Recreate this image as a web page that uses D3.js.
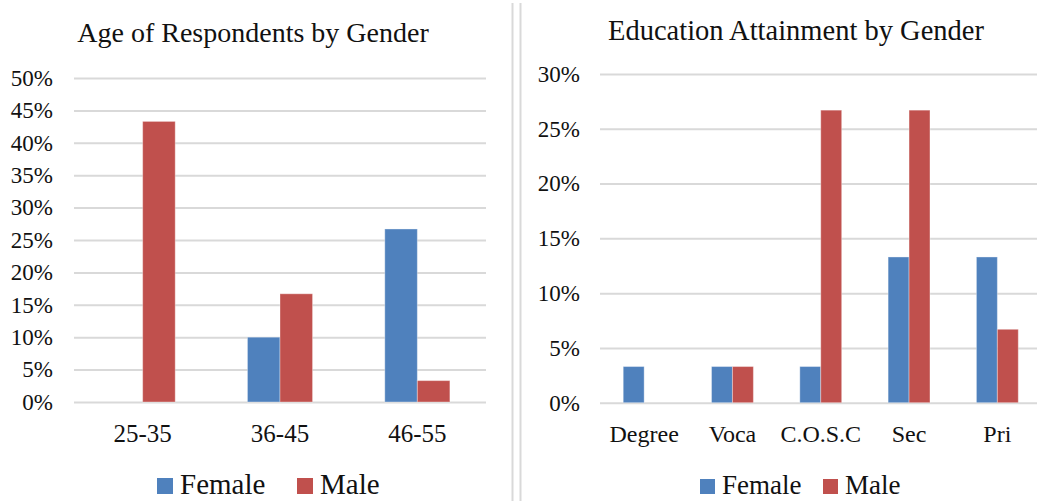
<!DOCTYPE html>
<html>
<head>
<meta charset="utf-8">
<script src="https://cdn.jsdelivr.net/npm/d3@7"></script>
<style>
  html, body { margin: 0; padding: 0; background: #fff; }
  svg { display: block; }
  text { font-family: "Liberation Serif", "DejaVu Serif", serif; fill: #111; }
</style>
</head>
<body>
<svg id="chart" width="1037" height="501"></svg>
<script>
// ---- data ----
const series = ["Female", "Male"];
const colors = ["#4f81bd", "#c0504d"];

const ageGroups = ["25-35", "36-45", "46-55"];
const ageFemale = [0, 10.0, 26.7];
const ageMale = [43.3, 16.7, 3.3];
const ageTicks = [0, 5, 10, 15, 20, 25, 30, 35, 40, 45, 50];

const eduLevels = ["Degree", "Voca", "C.O.S.C", "Sec", "Pri"];
const eduFemale = [3.3, 3.3, 3.3, 13.3, 13.3];
const eduMale = [0, 3.3, 26.7, 26.7, 6.7];
const eduTicks = [0, 5, 10, 15, 20, 25, 30];

const svg = d3.select("#chart");

// divider lines between the two panels
svg.selectAll("line.divider")
  .data([512.5, 520.5])
  .join("line")
  .attr("class", "divider")
  .attr("x1", d => d).attr("x2", d => d)
  .attr("y1", 3).attr("y2", 501)
  .attr("stroke", "#d9d9d9").attr("stroke-width", 2);

function drawPanel(cfg) {
  const g = svg.append("g");
  const x = d3.scaleBand().domain(cfg.categories).range(cfg.xRange).padding(0);
  const groupW = x.bandwidth() * 0.474;
  const xs = d3.scaleBand().domain(series).range([0, groupW]).padding(0);
  const y = d3.scaleLinear().domain([0, cfg.max]).range(cfg.yRange);

  // gridlines + tick labels via a left axis
  const axis = d3.axisLeft(y)
    .tickValues(cfg.ticks)
    .tickSize(-(cfg.gridEnd - cfg.xRange[0]))
    .tickPadding(cfg.xRange[0] - cfg.labelRight)
    .tickFormat(d => d + "%");
  const ax = g.append("g")
    .attr("transform", `translate(${cfg.xRange[0]},0)`)
    .call(axis);
  ax.select(".domain").remove();
  ax.selectAll(".tick line").attr("stroke", "#d9d9d9").attr("stroke-width", 2);
  ax.selectAll(".tick text")
    .attr("font-size", cfg.tickSize)
    .attr("font-family", null)
    .attr("fill", "#111");

  // bars
  const rows = cfg.categories.map((c, i) => ({ c, vals: [cfg.female[i], cfg.male[i]] }));
  const grp = g.selectAll("g.cat").data(rows).join("g")
    .attr("transform", d => `translate(${x(d.c) + (x.bandwidth() - groupW) / 2},0)`);
  grp.selectAll("rect")
    .data(d => d.vals.map((v, k) => ({ s: series[k], v, k })).filter(d => d.v > 0))
    .join("rect")
    .attr("x", d => xs(d.s))
    .attr("width", xs.bandwidth())
    .attr("y", d => y(d.v))
    .attr("height", d => y(0) - y(d.v))
    .attr("fill", d => colors[d.k])
    .attr("stroke", "#ffffff").attr("stroke-opacity", 0.35).attr("stroke-width", 1);

  // category labels
  g.selectAll("text.cat").data(cfg.categories).join("text")
    .attr("class", "cat")
    .attr("x", d => x(d) + x.bandwidth() / 2)
    .attr("y", cfg.catY)
    .attr("text-anchor", "middle")
    .attr("font-size", cfg.catSize)
    .text(d => d);

  // title
  g.append("text")
    .attr("x", cfg.titleX).attr("y", cfg.titleY)
    .attr("text-anchor", "middle")
    .attr("font-size", cfg.titleSize)
    .text(cfg.title);

  // legend
  const lg = g.selectAll("g.leg").data(series).join("g")
    .attr("transform", (d, i) => `translate(${cfg.legendX[i]},${cfg.legendY})`);
  lg.append("rect")
    .attr("x", 0).attr("y", -cfg.legSq)
    .attr("width", cfg.legSq).attr("height", cfg.legSq)
    .attr("fill", (d, i) => colors[i]);
  lg.append("text")
    .attr("x", cfg.legSq + 7).attr("y", 0)
    .attr("font-size", cfg.legSize)
    .text(d => d);
}

drawPanel({
  categories: ageGroups, female: ageFemale, male: ageMale,
  ticks: ageTicks, max: 50,
  xRange: [74, 486], gridEnd: 486, yRange: [402, 78],
  labelRight: 53, tickSize: 23, catSize: 25, catY: 442,
  title: "Age of Respondents by Gender", titleX: 253, titleY: 42, titleSize: 28,
  legendX: [157, 297], legendY: 494, legSq: 16, legSize: 29
});

drawPanel({
  categories: eduLevels, female: eduFemale, male: eduMale,
  ticks: eduTicks, max: 30,
  xRange: [600, 1041.5], gridEnd: 1041.5, yRange: [402.7, 74],
  labelRight: 580, tickSize: 23, catSize: 24, catY: 442,
  title: "Education Attainment by Gender", titleX: 796, titleY: 40, titleSize: 28.5,
  legendX: [700, 823], legendY: 494, legSq: 15, legSize: 27
});
</script>
</body>
</html>
